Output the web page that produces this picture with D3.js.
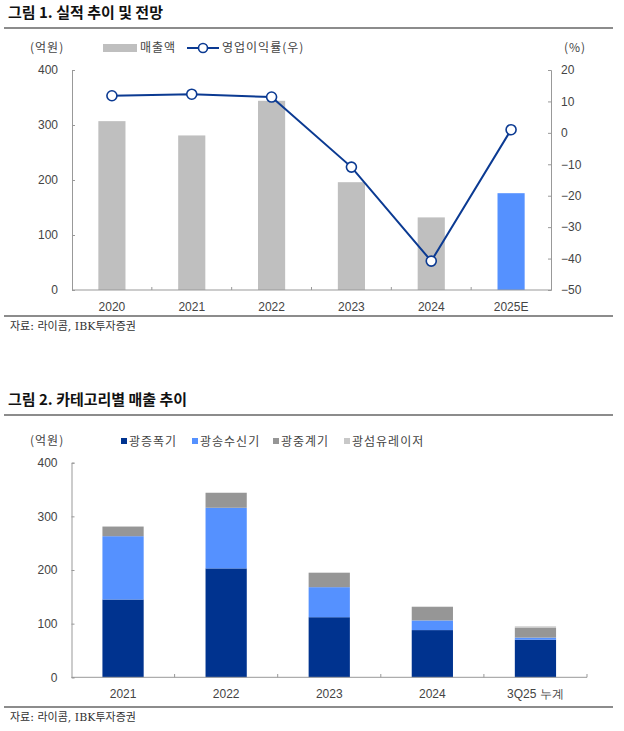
<!DOCTYPE html>
<html>
<head>
<meta charset="utf-8">
<script src="https://cdn.jsdelivr.net/npm/d3@7"></script>
<style>
  body { margin: 0; background: #fff; }
  svg { display: block; font-family: "Liberation Sans", "Noto Sans CJK KR", sans-serif; }
  .title { font-family: "Noto Sans CJK KR", sans-serif; font-weight: 700; font-size: 15px; fill: #111; }
  .unit, .legend { font-family: "Noto Sans CJK KR", sans-serif; font-size: 12px; fill: #444; letter-spacing: 1px; }
  .src { font-family: "DejaVu Serif", "Noto Sans CJK KR", serif; font-size: 11px; fill: #333; }
  .axis text { font-size: 12px; fill: #444; }
  .axis path, .axis line { stroke: #999; }
</style>
</head>
<body>
<svg id="chart" width="624" height="731"></svg>
<script>
// 그림 1 data
const years1 = ['2020', '2021', '2022', '2023', '2024', '2025E'];
const sales1 = [307, 281, 344, 196, 132, 176];
const opMargin = [11.8, 12.3, 11.4, -10.9, -40.8, 1.0];
const leftTicks1 = [0, 100, 200, 300, 400];
const rightTicks1 = [-50, -40, -30, -20, -10, 0, 10, 20];

// 그림 2 data
const years2 = ['2021', '2022', '2023', '2024', '3Q25 누계'];
const seriesNames = ['광증폭기', '광송수신기', '광중계기', '광섬유레이저'];
const amp = [145, 203, 112, 88, 70];
const trx = [118, 113, 56, 18, 4];
const repeater = [18, 28, 27, 25, 18];
const fiberLaser = [0, 0, 0, 1, 3];
const leftTicks2 = [0, 100, 200, 300, 400];

const colors2 = ['#00338f', '#5591ff', '#969696', '#c8c8c8'];
const navy = '#0b3a92';

const svg = d3.select('#chart');

function header(y, text) {
  svg.append('text').attr('class', 'title').attr('x', 8).attr('y', y).text(text);
  svg.append('line').attr('x1', 4).attr('x2', 613).attr('y1', y + 10).attr('y2', y + 10)
    .attr('stroke', '#8c8c8c').attr('stroke-width', 2);
}

function footer(y) {
  svg.append('line').attr('x1', 4).attr('x2', 613).attr('y1', y).attr('y2', y)
    .attr('stroke', '#666').attr('stroke-width', 1.5);
  svg.append('text').attr('class', 'src').attr('x', 10).attr('y', y + 14).text('자료: 라이콤, IBK투자증권');
}

// ---------- 그림 1 ----------
header(18, '그림 1. 실적 추이 및 전망');

const x1 = d3.scaleBand().domain(years1).range([72, 551]).paddingInner(0.66).paddingOuter(0.33);
const yL1 = d3.scaleLinear().domain([0, 400]).range([290, 70]);
const yR1 = d3.scaleLinear().domain([-50, 20]).range([290, 70]);

svg.append('text').attr('class', 'unit').attr('x', 30).attr('y', 52).text('(억원)');
svg.append('text').attr('class', 'unit').attr('x', 564).attr('y', 52).text('(%)');

svg.append('g').attr('class', 'axis').attr('transform', 'translate(72,0)')
  .call(d3.axisLeft(yL1).tickValues(leftTicks1).tickSize(-3).tickPadding(14));
svg.append('g').attr('class', 'axis').attr('transform', 'translate(551,0)')
  .call(d3.axisRight(yR1).tickValues(rightTicks1).tickSize(-3).tickPadding(10)
    .tickFormat(d => d < 0 ? '\u2212' + Math.abs(d) : d));

svg.selectAll('.bar1').data(years1).enter().append('rect')
  .attr('x', d => x1(d))
  .attr('width', x1.bandwidth())
  .attr('y', (d, i) => yL1(sales1[i]))
  .attr('height', (d, i) => yL1(0) - yL1(sales1[i]))
  .attr('fill', (d, i) => i === years1.length - 1 ? '#5591ff' : '#bfbfbf');

const xAxis1 = svg.append('g').attr('class', 'axis').attr('transform', 'translate(0,290)')
  .call(d3.axisBottom(x1).tickSize(0).tickPadding(12));
xAxis1.select('.domain').remove();
svg.append('line').attr('x1', 72).attr('x2', 551).attr('y1', 290).attr('y2', 290).attr('stroke', '#999');
const step1 = x1.step();
svg.selectAll('.xt1').data(d3.range(1, years1.length)).enter().append('line')
  .attr('x1', i => 72 + i * step1).attr('x2', i => 72 + i * step1)
  .attr('y1', 290).attr('y2', 287).attr('stroke', '#999');

const line1 = d3.line()
  .x((d, i) => x1(years1[i]) + x1.bandwidth() / 2)
  .y(d => yR1(d));
svg.append('path').datum(opMargin).attr('d', line1)
  .attr('fill', 'none').attr('stroke', navy).attr('stroke-width', 2);
svg.selectAll('.pt1').data(opMargin).enter().append('circle')
  .attr('cx', (d, i) => x1(years1[i]) + x1.bandwidth() / 2)
  .attr('cy', d => yR1(d))
  .attr('r', 5).attr('fill', '#fff').attr('stroke', navy).attr('stroke-width', 1.6);

// legend 1
svg.append('rect').attr('x', 103).attr('y', 44).attr('width', 34).attr('height', 8).attr('fill', '#bfbfbf');
svg.append('text').attr('class', 'legend').attr('x', 140).attr('y', 52).text('매출액');
svg.append('line').attr('x1', 187).attr('x2', 219).attr('y1', 48).attr('y2', 48).attr('stroke', navy).attr('stroke-width', 2);
svg.append('circle').attr('cx', 203).attr('cy', 48).attr('r', 4.5).attr('fill', '#fff').attr('stroke', navy).attr('stroke-width', 1.6);
svg.append('text').attr('class', 'legend').attr('x', 222).attr('y', 52).text('영업이익률(우)');

footer(316);

// ---------- 그림 2 ----------
header(405, '그림 2. 카테고리별 매출 추이');

const x2 = d3.scaleBand().domain(years2).range([71.5, 587]).paddingInner(0.6).paddingOuter(0.3);
const y2 = d3.scaleLinear().domain([0, 400]).range([677.3, 462.7]);

svg.append('text').attr('class', 'unit').attr('x', 30).attr('y', 445).text('(억원)');

svg.append('g').attr('class', 'axis').attr('transform', 'translate(71.5,0)')
  .call(d3.axisLeft(y2).tickValues(leftTicks2).tickSize(-3).tickPadding(14));

const table2 = years2.map((yr, i) => ({
  year: yr,
  [seriesNames[0]]: amp[i],
  [seriesNames[1]]: trx[i],
  [seriesNames[2]]: repeater[i],
  [seriesNames[3]]: fiberLaser[i]
}));
const stacked = d3.stack().keys(seriesNames)(table2);

svg.selectAll('.layer').data(stacked).enter().append('g')
  .attr('fill', (d, i) => colors2[i])
  .selectAll('rect').data(d => d).enter().append('rect')
  .attr('x', d => x2(d.data.year))
  .attr('width', x2.bandwidth())
  .attr('y', d => y2(d[1]))
  .attr('height', d => y2(d[0]) - y2(d[1]));

const xAxis2 = svg.append('g').attr('class', 'axis').attr('transform', 'translate(0,677.3)')
  .call(d3.axisBottom(x2).tickSize(0).tickPadding(12));
xAxis2.select('.domain').remove();
svg.append('line').attr('x1', 71.5).attr('x2', 587).attr('y1', 677.3).attr('y2', 677.3).attr('stroke', '#999');
const step2 = x2.step();
svg.selectAll('.xt2').data(d3.range(1, years2.length + 1)).enter().append('line')
  .attr('x1', i => 71.5 + i * step2).attr('x2', i => 71.5 + i * step2)
  .attr('y1', 677.3).attr('y2', 674).attr('stroke', '#999');

// legend 2
const legendX2 = [121, 192, 273, 344];
seriesNames.forEach((name, i) => {
  svg.append('rect').attr('x', legendX2[i]).attr('y', 438).attr('width', 6).attr('height', 6).attr('fill', colors2[i]);
  svg.append('text').attr('class', 'legend').attr('x', legendX2[i] + 8).attr('y', 445.5).text(name);
});

footer(707);
</script>
</body>
</html>
